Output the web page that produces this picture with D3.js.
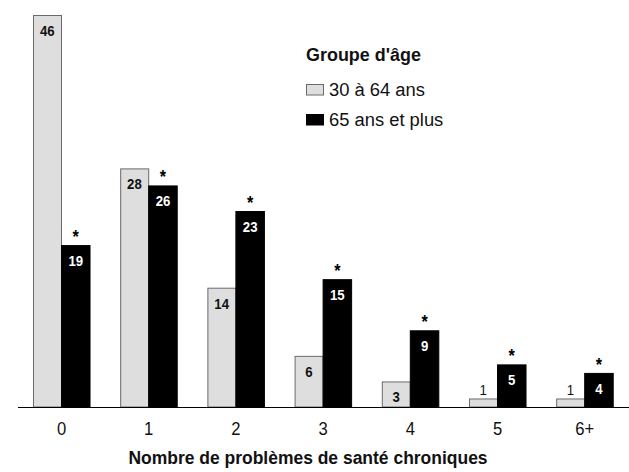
<!DOCTYPE html>
<html>
<head>
<meta charset="utf-8">
<script src="https://cdn.jsdelivr.net/npm/d3@7/dist/d3.min.js"></script>
<style>
  html, body { margin: 0; padding: 0; background: #fff; }
  svg { display: block; }
  text { font-family: "Liberation Sans", Arial, sans-serif; }
</style>
</head>
<body>
<svg id="chart" width="629" height="472"></svg>
<script>
const categories = ["0", "1", "2", "3", "4", "5", "6+"];
const seriesNames = ["30 à 64 ans", "65 ans et plus"];
const younger = [46, 28, 14, 6, 3, 1, 1];
const older = [19, 26, 23, 15, 9, 5, 4];
const olderSignificant = [true, true, true, true, true, true, true];
const legendTitle = "Groupe d'âge";
const xTitle = "Nombre de problèmes de santé chroniques";

const svg = d3.select("#chart");
const baseline = 407;
const topY = 15;

function narrow(sel, x, y, sx) {
  sel.attr("x", 0).attr("y", 0)
    .attr("transform", (d, i) => `translate(${typeof x === "function" ? x(d, i) : x},${typeof y === "function" ? y(d, i) : y}) scale(${sx},1)`);
  return sel;
}

const x = d3.scaleBand().domain(categories).range([17.9, 628.3]).paddingInner(0.346).paddingOuter(0.173);
const xs = d3.scaleBand().domain([0, 1]).range([0, x.bandwidth()]);
const y = d3.scaleLinear().domain([0, 46]).range([baseline, topY]);

const colors = ["#dedede", "#000000"];
const data = categories.map((c, i) => ({ cat: c, vals: [younger[i], older[i]], sig: olderSignificant[i] }));

const g = svg.append("g");
const groups = g.selectAll("g.grp").data(data).join("g")
  .attr("class", "grp")
  .attr("transform", d => `translate(${x(d.cat)},0)`);

groups.selectAll("rect").data(d => d.vals.map((v, k) => ({ v, k })))
  .join("rect")
  .attr("x", d => xs(d.k) + (d.k === 0 ? 0.5 : 0))
  .attr("y", d => y(d.v) + 0.5)
  .attr("width", d => xs.bandwidth() - (d.k === 0 ? 0.5 : 0))
  .attr("height", d => baseline - y(d.v) - 0.5)
  .attr("fill", d => colors[d.k])
  .attr("stroke", d => d.k === 0 ? "#6a6a6a" : "#000")
  .attr("stroke-width", 1);

const inside = v => (baseline - y(v) > 24);

// value labels
groups.selectAll("text.val").data(d => d.vals.map((v, k) => ({ v, k })))
  .join("text")
  .attr("class", "val")
  .attr("text-anchor", "middle")
  .attr("font-size", 15)
  .attr("font-weight", d => inside(d.v) ? "bold" : "normal")
  .attr("fill", d => (d.k === 1 && inside(d.v)) ? "#fff" : "#111")
  .text(d => d.v)
  .call(narrow, d => xs(d.k) + xs.bandwidth() / 2, d => inside(d.v) ? y(d.v) + 21 : y(d.v) - 3, 0.88);

// asterisks
groups.filter(d => d.sig).append("text")
  .attr("text-anchor", "middle")
  .attr("font-size", 18)
  .attr("font-weight", "bold")
  .attr("fill", "#000")
  .text("*")
  .call(narrow, xs(1) + xs.bandwidth() / 2, d => y(d.vals[1]) - 2, 0.9);

// axis
const axis = d3.axisBottom(x).tickSize(0).tickPadding(0);
const ax = svg.append("g").attr("transform", `translate(0,${baseline})`).call(axis);
ax.select(".domain").remove();
ax.selectAll(".tick text")
  .attr("dy", null)
  .attr("font-size", 17.5).attr("fill", "#111")
  .style("font-family", '"Liberation Sans", Arial, sans-serif')
  .call(narrow, 0, 28, 0.95);
svg.append("line").attr("x1", 18).attr("x2", 629).attr("y1", baseline + 0.5).attr("y2", baseline + 0.5)
  .attr("stroke", "#000").attr("stroke-width", 1.2);

svg.append("text")
  .attr("text-anchor", "middle")
  .attr("font-size", 18.5).attr("font-weight", "bold").attr("fill", "#111")
  .text(xTitle)
  .call(narrow, 308, 464, 0.945);

// legend
const lg = svg.append("g");
lg.append("text").attr("font-size", 18.5).attr("font-weight", "bold").attr("fill", "#111").text(legendTitle)
  .call(narrow, 306, 61, 0.97);
seriesNames.forEach((name, k) => {
  lg.append("rect").attr("x", 306.5).attr("y", 84.5 + k * 30).attr("width", 17).attr("height", 10.5)
    .attr("fill", colors[k]).attr("stroke", k === 0 ? "#6a6a6a" : "#000");
  lg.append("text").attr("font-size", 18).attr("fill", "#111").text(name)
    .call(narrow, 329, 96 + k * 30, 1.02);
});
</script>
</body>
</html>
